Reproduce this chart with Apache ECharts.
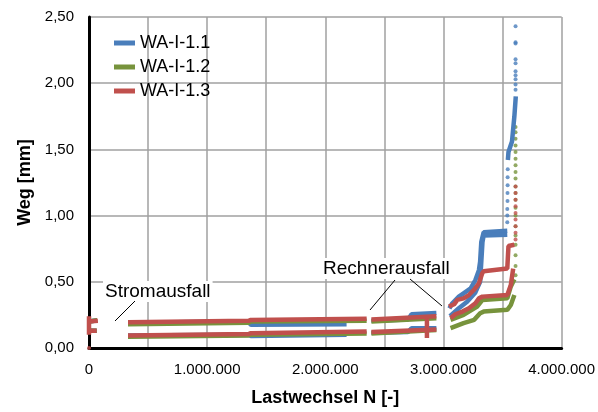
<!DOCTYPE html>
<html>
<head>
<meta charset="utf-8">
<script src="https://cdn.jsdelivr.net/npm/echarts@6/dist/echarts.min.js"></script>
<style>html,body{margin:0;padding:0;background:#fff}#weg{width:598px;height:412px}</style>
</head>
<body>
<div id="weg"></div>
<script>
// Weg über Lastwechsel, je Probe obere und untere Kurve (Segmente, Lücken = Ausfall)
var names = ['WA-I-1.1', 'WA-I-1.2', 'WA-I-1.3'];
var colors = ['#4A7EBB', '#77933C', '#C0504D'];
var xLabelTicks = [0, 1000000, 2000000, 3000000, 4000000];

var blueUpper = [
    [[0, 0.20], [70000, 0.21]],
    [[330000, 0.19], [1350000, 0.20], [1370000, 0.175], [2180000, 0.18]],
    [[2390000, 0.205], [2700000, 0.215], [2730000, 0.255], [2940000, 0.265]],
    [[3050000, 0.30], [3075000, 0.338], [3130000, 0.388], [3170000, 0.413], [3230000, 0.45], [3270000, 0.513], [3300000, 0.588], [3310000, 0.65], [3320000, 0.80], [3340000, 0.875], [3540000, 0.885]],
    [[3545000, 1.42], [3550000, 1.48], [3565000, 1.52], [3580000, 1.56], [3600000, 1.75], [3612000, 1.90]]
];
var blueLower = [
    [[0, 0.13], [65000, 0.13]],
    [[330000, 0.095], [1350000, 0.10], [1370000, 0.09], [2180000, 0.10]],
    [[2390000, 0.115], [2700000, 0.12], [2730000, 0.15], [2940000, 0.15]],
    [[3055000, 0.24], [3130000, 0.30], [3200000, 0.35], [3270000, 0.42], [3310000, 0.50], [3330000, 0.80], [3340000, 0.85], [3540000, 0.855]]
];
var greenUpper = [
    [[0, 0.20], [70000, 0.21]],
    [[330000, 0.18], [1350000, 0.19], [1370000, 0.20], [2350000, 0.205]],
    [[2390000, 0.20], [2940000, 0.225]],
    [[3060000, 0.213], [3170000, 0.25], [3285000, 0.313], [3330000, 0.363], [3540000, 0.375], [3570000, 0.465], [3600000, 0.52]]
];
var greenLower = [
    [[0, 0.13], [65000, 0.13]],
    [[330000, 0.085], [1350000, 0.095], [1370000, 0.10], [2350000, 0.11]],
    [[2390000, 0.11], [2940000, 0.135]],
    [[3060000, 0.15], [3170000, 0.188], [3260000, 0.213], [3310000, 0.263], [3340000, 0.275], [3540000, 0.288], [3570000, 0.325], [3600000, 0.40]]
];
var redUpper = [
    [[0, 0.10], [0, 0.24]],
    [[0, 0.20], [75000, 0.205]],
    [[330000, 0.195], [1350000, 0.205], [1370000, 0.212], [2350000, 0.22]],
    [[2390000, 0.215], [2940000, 0.24]],
    [[2860000, 0.23], [2860000, 0.075]],
    [[3046000, 0.313], [3090000, 0.33], [3117000, 0.363], [3170000, 0.375], [3215000, 0.40], [3257000, 0.438], [3300000, 0.488], [3327000, 0.563], [3340000, 0.58], [3540000, 0.60], [3550000, 0.77], [3600000, 0.78]]
];
var redLower = [
    [[0, 0.13], [65000, 0.13]],
    [[330000, 0.095], [1350000, 0.105], [1370000, 0.112], [2350000, 0.125]],
    [[2390000, 0.12], [2940000, 0.14]],
    [[3060000, 0.225], [3100000, 0.255], [3160000, 0.275], [3215000, 0.30], [3270000, 0.338], [3300000, 0.375], [3330000, 0.388], [3540000, 0.40], [3570000, 0.475], [3590000, 0.60]]
];

// einzelne Messpunkte am Ende (Versagen)
var blueDots = [[3540000, 0.95], [3540000, 1.0], [3540000, 1.05], [3542000, 1.11], [3542000, 1.17], [3543000, 1.23], [3543000, 1.29], [3544000, 1.35],
    [3610000, 1.95], [3610000, 1.99], [3610000, 2.03], [3610000, 2.06], [3610000, 2.09], [3610000, 2.15], [3610000, 2.18], [3610000, 2.30], [3610000, 2.31], [3610000, 2.43]];
var greenDots = [[3610000, 0.55], [3610000, 0.62], [3610000, 0.70], [3610000, 0.78], [3610000, 0.85], [3610000, 0.92], [3610000, 1.0], [3610000, 1.06],
    [3610000, 1.12], [3610000, 1.17], [3610000, 1.22], [3610000, 1.28], [3610000, 1.33], [3610000, 1.38], [3610000, 1.43], [3610000, 1.48],
    [3610000, 1.53], [3610000, 1.58], [3610000, 1.63], [3610000, 1.67]];
var redDots = [[0, 0.0], [3610000, 0.82], [3610000, 0.87], [3610000, 0.92], [3610000, 0.97], [3610000, 1.02], [3610000, 1.07], [3610000, 1.12], [3610000, 1.17], [3610000, 1.22]];

function joinSegs(segs) {
    var out = [];
    segs.forEach(function (s, i) {
        if (i > 0) out.push(['-', '-']);
        out = out.concat(s);
    });
    return out;
}

function band(i, segs) {
    return {
        name: names[i], type: 'line', data: joinSegs(segs),
        showSymbol: false, connectNulls: false, clip: false,
        lineStyle: {color: colors[i], width: 4.5},
        itemStyle: {color: colors[i]}
    };
}
function dots(i, d) {
    return {
        name: names[i], type: 'scatter', data: d, symbolSize: 4,
        itemStyle: {color: colors[i]}
    };
}

function fmtN(v) {
    if (xLabelTicks.indexOf(v) < 0) return '';
    return String(v).replace(/\B(?=(\d{3})+(?!\d))/g, '.');
}

var FONT = '"Liberation Sans", Arial, sans-serif';
var myChart = echarts.init(document.getElementById('weg'));
var option = {
    animation: false,
    textStyle: {fontFamily: FONT},
    grid: {left: 89, right: 35, top: 17, bottom: 62},
    legend: {
        orient: 'vertical', left: 114, top: 34, padding: 0, itemGap: 6,
        itemWidth: 21, itemHeight: 5, icon: 'rect',
        data: names,
        textStyle: {fontSize: 18, color: '#000', fontFamily: FONT}
    },
    xAxis: {
        type: 'value', min: 0, max: 4000000, interval: 500000,
        name: 'Lastwechsel N [-]', nameLocation: 'middle', nameGap: 41,
        nameTextStyle: {fontSize: 18, fontWeight: 'bold', color: '#000'},
        axisLine: {show: true, lineStyle: {color: '#000', width: 3}},
        axisTick: {show: false},
        axisLabel: {formatter: fmtN, fontSize: 15, color: '#000', margin: 14, showMaxLabel: true},
        splitLine: {show: true, lineStyle: {color: '#a0a0a0', width: 1.5}}
    },
    yAxis: {
        type: 'value', min: 0, max: 2.5, interval: 0.5,
        name: 'Weg [mm]', nameLocation: 'middle', nameGap: 50,
        nameTextStyle: {fontSize: 18, fontWeight: 'bold', color: '#000'},
        axisLine: {show: true, lineStyle: {color: '#000', width: 3}},
        axisTick: {show: false},
        axisLabel: {formatter: function (v) { return v.toFixed(2).replace('.', ','); }, fontSize: 15, color: '#000', margin: 15},
        splitLine: {show: true, lineStyle: {color: '#a0a0a0', width: 1.5}}
    },
    graphic: [
        {type: 'text', left: 103, top: 281, z: 100, style: {text: 'Stromausfall', font: '19px ' + FONT, fill: '#000', backgroundColor: '#fff', padding: [1, 2]}},
        {type: 'line', z: 100, shape: {x1: 115, y1: 321, x2: 135, y2: 301}, style: {stroke: '#000', lineWidth: 1}},
        {type: 'text', left: 321, top: 258, z: 100, style: {text: 'Rechnerausfall', font: '19px ' + FONT, fill: '#000', backgroundColor: '#fff', padding: [1, 2]}},
        {type: 'line', z: 100, shape: {x1: 395, y1: 280, x2: 370, y2: 310}, style: {stroke: '#000', lineWidth: 1}},
        {type: 'line', z: 100, shape: {x1: 410, y1: 279, x2: 442, y2: 306}, style: {stroke: '#000', lineWidth: 1}}
    ],
    series: [
        band(0, blueUpper), band(0, blueLower), dots(0, blueDots),
        band(1, greenUpper), band(1, greenLower), dots(1, greenDots),
        band(2, redUpper), band(2, redLower), dots(2, redDots)
    ]
};
myChart.setOption(option);
window.addEventListener("resize", function () { myChart.resize(); });
</script>
</body>
</html>
